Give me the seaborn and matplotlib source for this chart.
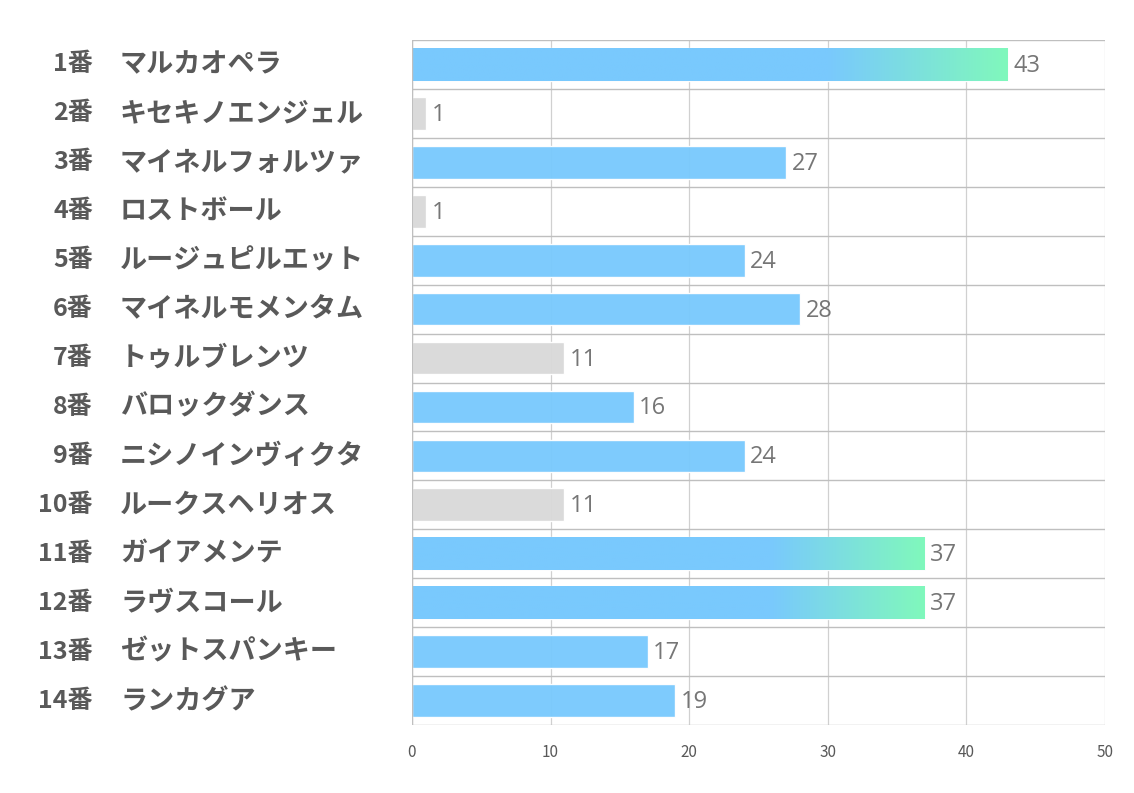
import numpy as np
import pandas as pd
import matplotlib
matplotlib.use("Agg")
import matplotlib.pyplot as plt
import matplotlib.transforms as mtransforms
from matplotlib.colors import LinearSegmentedColormap
import seaborn as sns

numbers = ["1番", "2番", "3番", "4番", "5番", "6番", "7番",
           "8番", "9番", "10番", "11番", "12番", "13番", "14番"]
horses = ["マルカオペラ", "キセキノエンジェル", "マイネルフォルツァ", "ロストボール",
          "ルージュピルエット", "マイネルモメンタム", "トゥルブレンツ", "バロックダンス",
          "ニシノインヴィクタ", "ルークスヘリオス", "ガイアメンテ", "ラヴスコール",
          "ゼットスパンキー", "ランカグア"]
scores = [43, 1, 27, 1, 24, 28, 11, 16, 24, 11, 37, 37, 17, 19]
groups = ["top", "low", "mid", "low", "mid", "mid", "low",
          "mid", "mid", "low", "top", "top", "mid", "mid"]

BLUE = "#79c9fd"
GREEN = "#80f8bc"
GRAY = "#d9d9d9"
TEXT = "#595959"

df = pd.DataFrame({"key": numbers, "score": scores, "group": groups})

sns.set_theme(style="white")
plt.rcParams["font.family"] = ["Noto Sans CJK JP", "DejaVu Sans"]

fig = plt.figure(figsize=(11.34, 7.93), dpi=100)
ax = fig.add_axes([0.3633, 0.0857, 0.6111, 0.8639])

sns.barplot(data=df, y="key", x="score", hue="group",
            palette={"top": BLUE, "mid": BLUE, "low": GRAY},
            dodge=False, legend=False, width=0.67, ax=ax,
            saturation=1, alpha=0.96, zorder=2)

ax.set_xlim(0, 50)
ax.set_ylim(len(numbers) - 0.5, -0.5)
ax.set_xticks(range(0, 51, 10))
ax.set_xlabel("")
ax.set_ylabel("")
ax.set_yticks([])
ax.tick_params(axis="x", length=0, pad=14, labelsize=11, labelcolor=TEXT)
for s in ax.spines.values():
    s.set_visible(False)

# vertical grid
for v in range(0, 51, 10):
    ax.axvline(v, color="#d0d0d0", lw=0.9, zorder=1)
ax.axvline(0, color="#bfbfbf", lw=1.0, zorder=3)
# row separators
for i in range(len(numbers) + 1):
    ax.axhline(i - 0.5, color="#bfbfbf", lw=1.0, zorder=3)

# gradient for the top bars
cmap = LinearSegmentedColormap.from_list(
    "g", [(0, BLUE), (0.7, BLUE), (1, GREEN)], N=256)
grad = np.linspace(0, 1, 256).reshape(1, -1)
for p in ax.patches:
    w = p.get_width()
    idx = int(round(p.get_y() + p.get_height() / 2))
    if 0 <= idx < len(groups) and groups[idx] == "top" and w > 0:
        im = ax.imshow(grad, cmap=cmap, aspect="auto", zorder=2.5,
                       extent=[p.get_x(), p.get_x() + w,
                               p.get_y() + p.get_height(), p.get_y()])
        im.set_clip_path(p)
ax.set_xlim(0, 50)
ax.set_ylim(len(numbers) - 0.5, -0.5)

# value labels
for i, v in enumerate(scores):
    ax.text(v + 0.4, i + 0.03, str(v), va="center", ha="left", fontsize=17,
            color="#767676", family=["Open Sans", "DejaVu Sans"], zorder=4)

# row labels
trans = mtransforms.blended_transform_factory(fig.transFigure, ax.transData)
for i, (n, h) in enumerate(zip(numbers, horses)):
    ax.text(93 / 1134, i, n, transform=trans, ha="right", va="center",
            fontsize=18, fontweight="bold", color=TEXT)
    ax.text(120 / 1134, i, h, transform=trans, ha="left", va="center",
            fontsize=19.5, fontweight="bold", color=TEXT)

fig.savefig("out.png", dpi=100)
